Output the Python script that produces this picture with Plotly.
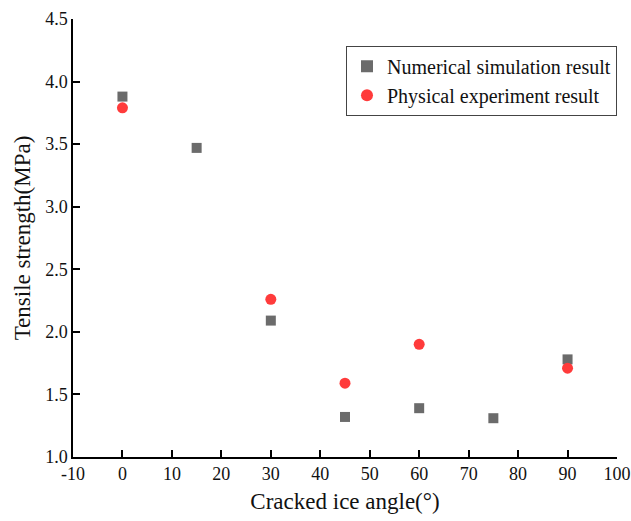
import plotly.graph_objects as go

num_x = [0, 15, 30, 45, 60, 75, 90]
num_y = [3.88, 3.47, 2.09, 1.32, 1.39, 1.31, 1.78]
phy_x = [0, 30, 45, 60, 90]
phy_y = [3.79, 2.26, 1.59, 1.90, 1.71]
x_ticks = list(range(-10, 101, 10))
x_tick_text = [str(v) for v in x_ticks]  # hyphen minus like the original
y_ticks = [1.0, 1.5, 2.0, 2.5, 3.0, 3.5, 4.0, 4.5]

font = "Liberation Serif"
tickfont = dict(family=font, size=18, color="#111")

fig = go.Figure()
fig.add_trace(go.Scatter(x=num_x, y=num_y, mode="markers", name="Numerical simulation result",
                         marker=dict(symbol="square", size=10, color="#6b6b6b")))
fig.add_trace(go.Scatter(x=phy_x, y=phy_y, mode="markers", name="Physical experiment result",
                         marker=dict(symbol="circle", size=11, color="#ff3b3b")))

fig.update_layout(
    width=631, height=521,
    margin=dict(l=73, r=14, t=19, b=64),
    paper_bgcolor="white", plot_bgcolor="white",
    font=dict(family=font, size=18, color="#111"),
    legend=dict(x=1, xanchor="right", y=0.939, yanchor="top",
                bordercolor="#444", borderwidth=1, bgcolor="white",
                font=dict(size=20, family=font, color="#111"),
                tracegroupgap=0, itemsizing="constant"),
    xaxis=dict(range=[-10, 100], tickvals=x_ticks, ticktext=x_tick_text, automargin=False,
               ticklabeloverflow="allow", tickfont=tickfont,
               showgrid=False, zeroline=False, showline=True, linecolor="black", linewidth=1.5,
               ticks="inside", ticklen=7, tickwidth=1.5, tickcolor="black",
               title=dict(text="Cracked ice angle(°)", font=dict(size=23, family=font, color="#111"), standoff=10)),
    yaxis=dict(range=[1.0, 4.5], tickvals=y_ticks, tickformat=".1f", automargin=False,
               ticklabeloverflow="allow", tickfont=tickfont,
               showgrid=False, zeroline=False, showline=True, linecolor="black", linewidth=1.5,
               ticks="inside", ticklen=7, tickwidth=1.5, tickcolor="black",
               title=dict(text="Tensile strength(MPa)", font=dict(size=23, family=font, color="#111"), standoff=8)),
)

fig.write_html("out.html")
